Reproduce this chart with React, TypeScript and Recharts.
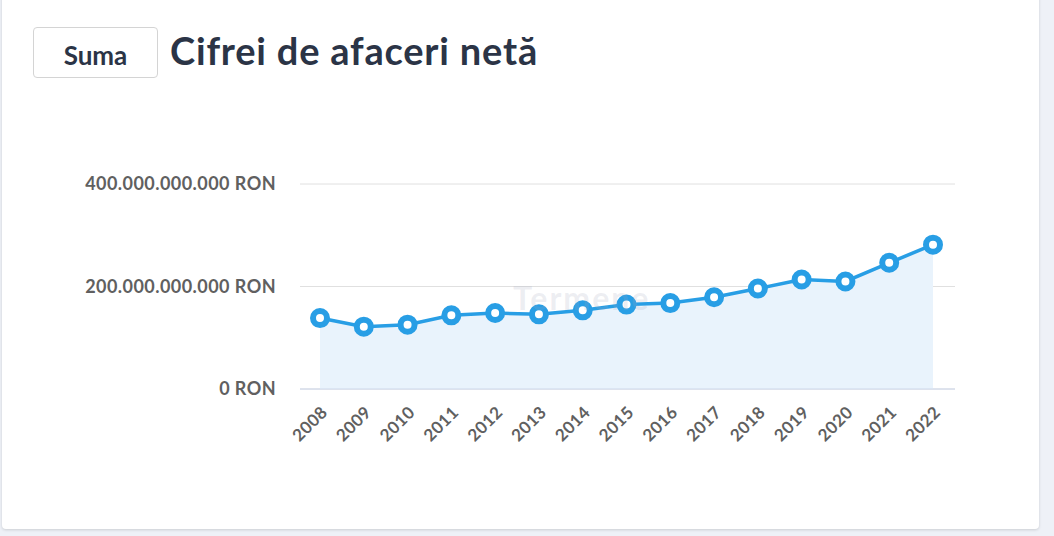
import React from "react";
import {
  AreaChart,
  Area,
  XAxis,
  YAxis,
  CartesianGrid,
} from "recharts";

const years = [
  "2008", "2009", "2010", "2011", "2012", "2013", "2014", "2015",
  "2016", "2017", "2018", "2019", "2020", "2021", "2022",
];

// cifra de afaceri neta, in miliarde RON
const turnoverBn = [
  138.4, 121.6, 125.5, 143.7, 148.2, 145.7, 153.5, 164.7,
  167.6, 179, 196, 213.7, 209.8, 246.3, 281.6,
];

const yTicks = [0, 200e9, 400e9];

const data = years.map((year, i) => ({ year, value: turnoverBn[i] * 1e9 }));

const BLUE = "#289ee5";

function formatRon(v: number) {
  return (
    Math.round(v)
      .toString()
      .replace(/\B(?=(\d{3})+(?!\d))/g, ".") + " RON"
  );
}

export default function App() {
  return (
    <div
      style={{
        position: "absolute",
        left: 0,
        top: 0,
        width: 1054,
        height: 536,
        background: "#eef1f7",
        fontFamily: "Lato, sans-serif",
        overflow: "hidden",
      }}
    >
      <div
        style={{
          position: "absolute",
          left: 2,
          top: -10,
          width: 1037,
          height: 539,
          background: "#fff",
          borderRadius: 4,
          boxShadow: "0 1px 3px rgba(0,0,0,0.15)",
        }}
      />
      <div
        style={{
          position: "absolute",
          left: 33,
          top: 27,
          width: 123,
          height: 45,
          border: "1px solid #d4d4d4",
          borderRadius: 4,
          boxSizing: "content-box",
          display: "flex",
          alignItems: "center",
          justifyContent: "center",
          fontSize: 26,
          fontWeight: 700,
          color: "#2b3446",
          paddingTop: 4,
        }}
      >
        Suma
      </div>
      <div
        style={{
          position: "absolute",
          left: 170,
          top: 27,
          fontSize: 38,
          fontWeight: 700,
          color: "#2b3446",
          letterSpacing: 0.8,
          whiteSpace: "nowrap",
        }}
      >
        Cifrei de afaceri netă
      </div>
      <div style={{ position: "absolute", left: 0, top: 150 }}>
        <AreaChart
          width={1040}
          height={330}
          data={data}
          margin={{ top: 34, right: 85, left: 0, bottom: 21 }}
        >
          <CartesianGrid vertical={false} stroke="#e0e0e0" />
          <XAxis
            dataKey="year"
            interval={0}
            padding={{ left: 20, right: 22 }}
            axisLine={{ stroke: "#ccd6eb" }}
            tickLine={false}
            tickSize={0}
            tickMargin={16}
            angle={-45}
            textAnchor="end"
            height={70}
            tick={{ fill: "#606060", fontSize: 17, fontWeight: 700, letterSpacing: 0.4 }}
          />
          <YAxis
            width={300}
            domain={[0, 400e9]}
            ticks={yTicks}
            axisLine={false}
            tickLine={false}
            tickSize={0}
            tickMargin={24}
            tickFormatter={formatRon}
            tick={{ fill: "#606060", fontSize: 18, fontWeight: 700, letterSpacing: 0.45 }}
          />
          <Area
            type="linear"
            dataKey="value"
            stroke={BLUE}
            strokeWidth={3.5}
            fill="#e9f3fc"
            fillOpacity={1}
            dot={{ r: 7, fill: "#fff", stroke: BLUE, strokeWidth: 6 }}
            activeDot={false}
            isAnimationActive={false}
          />
        </AreaChart>
      </div>
      <div
        style={{
          position: "absolute",
          left: 513,
          top: 278,
          fontSize: 32,
          fontWeight: 700,
          letterSpacing: 2,
          color: "rgba(160,168,190,0.2)",
          pointerEvents: "none",
        }}
      >
        Termene
      </div>
    </div>
  );
}
